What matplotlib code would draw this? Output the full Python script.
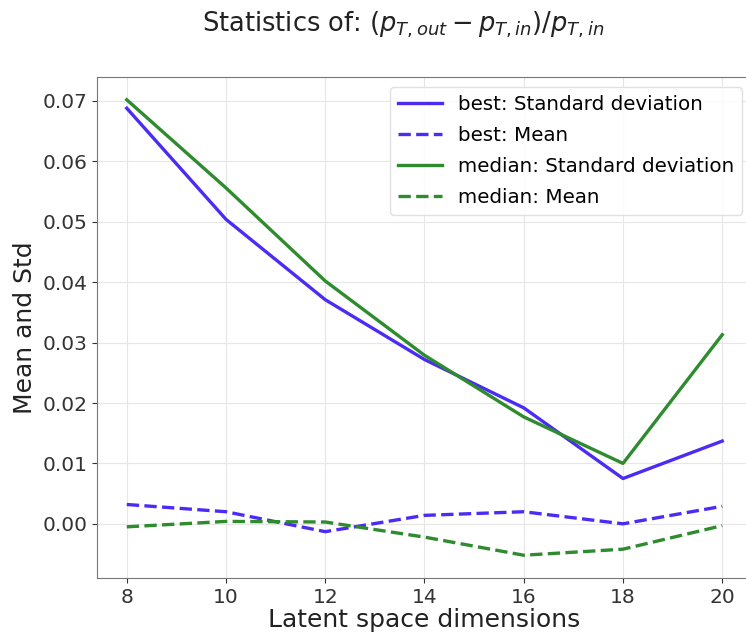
import numpy as np
import matplotlib
matplotlib.use("Agg")
import matplotlib.pyplot as plt

# latent space dimensions
dims = [8, 10, 12, 14, 16, 18, 20]

# statistics of (pT_out - pT_in)/pT_in
best_std = [0.0688, 0.0504, 0.0371, 0.0272, 0.0192, 0.0075, 0.0137]
best_mean = [0.0032, 0.0020, -0.0013, 0.0014, 0.0020, 0.0000, 0.0029]
median_std = [0.0702, 0.0556, 0.0402, 0.0279, 0.0177, 0.0100, 0.0313]
median_mean = [-0.0005, 0.0004, 0.0003, -0.0022, -0.0052, -0.0042, -0.0003]

blue = '#4a2cf5'
green = '#2e8b2e'

fig = plt.figure(figsize=(7.46, 6.37), dpi=100)
ax = fig.add_axes([97/746, 59/637, 655/746, 501/637])

ax.plot(dims, best_std, color=blue, lw=2.4, label='best: Standard deviation')
ax.plot(dims, best_mean, color=blue, lw=2.4, ls='--', label='best: Mean')
ax.plot(dims, median_std, color=green, lw=2.4, label='median: Standard deviation')
ax.plot(dims, median_mean, color=green, lw=2.4, ls='--', label='median: Mean')

ax.set_xticks(np.arange(8, 21, 2))
ax.tick_params(labelsize=14.5, colors='#333333')
ax.grid(True, color='#e6e6e6', lw=0.8)
for s in ax.spines.values():
    s.set_color('#777777')

ax.set_xlabel("Latent space dimensions", fontsize=18, color='#222222', labelpad=1)
ax.set_ylabel("Mean and Std", fontsize=18, color='#222222', labelpad=4)

ax.legend(loc='upper right', fontsize=14.3, framealpha=0.9, edgecolor='#dddddd',
          handlelength=2.2, borderaxespad=0.5, labelspacing=0.6)

fig.suptitle(r"Statistics of: $(p_{T,out} - p_{T,in})/p_{T,in}$", fontsize=18.5,
             x=403/746, y=1 - 10/637, va='top', color='#222222')

plt.savefig("out.png", dpi=100)
